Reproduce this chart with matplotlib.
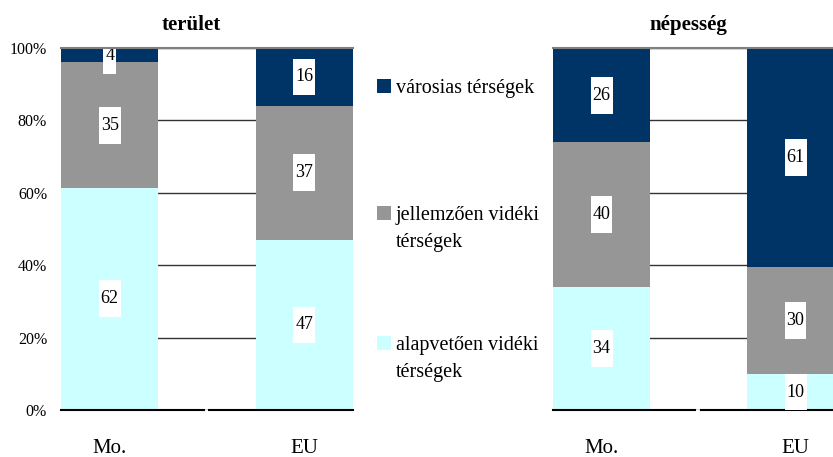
import numpy as np
import matplotlib
matplotlib.use("Agg")
import matplotlib.pyplot as plt
from matplotlib.path import Path
from matplotlib.patches import Rectangle

plt.rcParams['font.family'] = ['Liberation Serif', 'DejaVu Serif']

# adatok
categories = ['Mo.', 'EU']
series_names = [['városias térségek'],
                ['jellemzően vidéki', 'térségek'],
                ['alapvetően vidéki', 'térségek']]
colors = ['#003366', '#969696', '#CCFFFF']

terulet_alap = [62, 47]
terulet_jell = [35, 37]
terulet_varos = [4, 16]

nepesseg_alap = [34, 10]
nepesseg_jell = [40, 30]
nepesseg_varos = [26, 61]

yticks = [0, 20, 40, 60, 80, 100]
ytick_labels = ['0%', '20%', '40%', '60%', '80%', '100%']


def label_box(x0, y0, width, height, mutation_size):
    # keskeny, magas fehér címkedoboz (mint az Excelben)
    px = 0.11 * mutation_size
    py = 0.55 * mutation_size
    verts = [(x0 - px, y0 - py), (x0 + width + px, y0 - py),
             (x0 + width + px, y0 + height + py), (x0 - px, y0 + height + py),
             (x0 - px, y0 - py)]
    return Path(verts, closed=True)


def stacked_panel(ax, alap, jell, varos, title, title_x, show_yticks):
    alap = np.array(alap, float)
    jell = np.array(jell, float)
    varos = np.array(varos, float)
    total = alap + jell + varos
    layers = [alap, jell, varos]
    layer_colors = [colors[2], colors[1], colors[0]]
    x = np.arange(len(categories))
    bottom = np.zeros(len(categories))
    for vals, col in zip(layers, layer_colors):
        h = vals / total * 100
        ax.bar(x, h, width=0.5, bottom=bottom, color=col, zorder=2)
        for xi, hi, bi, v in zip(x, h, bottom, vals):
            ax.text(xi, bi + hi / 2, f'{int(v)}', ha='center', va='center',
                    fontsize=13, zorder=4, clip_on=True,
                    bbox=dict(boxstyle=label_box, fc='white', ec='none'))
        bottom += h

    ax.set_ylim(0, 100)
    ax.set_yticks(yticks)
    ax.yaxis.grid(True, color='#333333', lw=1)
    ax.set_axisbelow(True)
    ax.axhline(100, color='#808080', lw=1.5, zorder=5, clip_on=False)
    # megszakított alapvonal
    ax.plot([-0.25, 0.483], [0, 0], color='black', lw=1.5, zorder=3, clip_on=False)
    ax.plot([0.513, 1.25], [0, 0], color='black', lw=1.5, zorder=3, clip_on=False)

    ax.set_xticks(x)
    ax.set_xticklabels(categories, fontsize=15)
    ax.tick_params(axis='x', length=0, pad=21)
    if show_yticks:
        ax.set_yticklabels(ytick_labels, fontsize=11.5)
        ax.tick_params(axis='y', length=0, pad=10)
    else:
        ax.tick_params(axis='y', length=0, labelleft=False)
    for s in ax.spines.values():
        s.set_visible(False)
    ax.figure.text(title_x, 0.934, title, ha='center', va='baseline',
                   fontsize=15, fontweight='bold')


fig = plt.figure(figsize=(8.33, 4.57), dpi=100)
ax1 = fig.add_axes([0.0732, 0.1028, 0.3505, 0.7921])
ax1.set_xlim(-0.25, 1.25)
stacked_panel(ax1, terulet_alap, terulet_jell, terulet_varos, 'terület', 0.229, True)

ax2 = fig.add_axes([0.6639, 0.1028, 0.3361, 0.7921])
ax2.set_xlim(-0.25, 1.193)
stacked_panel(ax2, nepesseg_alap, nepesseg_jell, nepesseg_varos, 'népesség', 0.826, False)

# jelmagyarázat
legend_y = [86, 213, 343]
for lines, col, yp in zip(series_names, colors, legend_y):
    fig.patches.append(Rectangle((377 / 833, 1 - (yp + 7) / 457), 14 / 833, 14 / 457,
                                 transform=fig.transFigure, fc=col, ec='none'))
    for i, line in enumerate(lines):
        fig.text(396 / 833, 1 - (yp + 7 + 27 * i) / 457, line, ha='left',
                 va='baseline', fontsize=14.5, family='Liberation Serif')

fig.savefig('out.png', dpi=100)
